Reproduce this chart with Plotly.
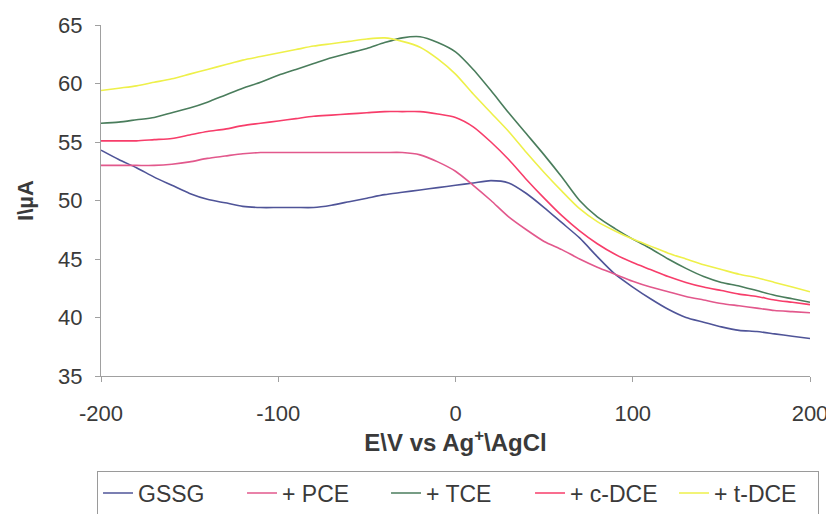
import plotly.graph_objects as go

potential = list(range(-200, 201, 10))

gssg = [54.3, 53.5, 52.8, 52.0, 51.3, 50.6, 50.1, 49.8, 49.5, 49.4, 49.4, 49.4, 49.4, 49.6, 49.9,
        50.2, 50.5, 50.7, 50.9, 51.1, 51.3, 51.5, 51.7, 51.5, 50.6, 49.4, 48.1, 46.8, 45.2, 43.7,
        42.6, 41.6, 40.7, 40.0, 39.6, 39.2, 38.9, 38.8, 38.6, 38.4, 38.2]
pce = [53.0, 53.0, 53.0, 53.0, 53.1, 53.3, 53.6, 53.8, 54.0, 54.1, 54.1, 54.1, 54.1, 54.1, 54.1,
       54.1, 54.1, 54.1, 53.9, 53.3, 52.5, 51.3, 50.0, 48.6, 47.5, 46.5, 45.8, 45.0, 44.3, 43.7,
       43.1, 42.6, 42.2, 41.8, 41.5, 41.2, 41.0, 40.8, 40.6, 40.5, 40.4]
tce = [56.6, 56.7, 56.9, 57.1, 57.5, 57.9, 58.4, 59.0, 59.6, 60.1, 60.7, 61.2, 61.7, 62.2, 62.6,
       63.0, 63.5, 63.9, 64.0, 63.5, 62.7, 61.2, 59.4, 57.5, 55.7, 53.9, 52.0, 50.0, 48.6, 47.6,
       46.7, 45.9, 45.0, 44.2, 43.5, 43.0, 42.7, 42.3, 41.9, 41.6, 41.3]
cdce = [55.1, 55.1, 55.1, 55.2, 55.3, 55.6, 55.9, 56.1, 56.4, 56.6, 56.8, 57.0, 57.2, 57.3, 57.4,
        57.5, 57.6, 57.6, 57.6, 57.4, 57.1, 56.3, 55.0, 53.5, 51.8, 50.2, 48.7, 47.4, 46.3, 45.4,
        44.7, 44.1, 43.5, 43.0, 42.6, 42.3, 42.0, 41.8, 41.5, 41.3, 41.1]
tdce = [59.4, 59.6, 59.8, 60.1, 60.4, 60.8, 61.2, 61.6, 62.0, 62.3, 62.6, 62.9, 63.2, 63.4, 63.6,
        63.8, 63.9, 63.6, 63.1, 62.1, 60.8, 59.1, 57.5, 55.9, 54.1, 52.4, 50.8, 49.3, 48.2, 47.4,
        46.7, 46.1, 45.5, 45.0, 44.5, 44.1, 43.7, 43.4, 43.0, 42.6, 42.2]

x_ticks = [-200, -100, 0, 100, 200]
x_tick_labels = ["-200", "-100", "0", "100", "200"]
y_ticks = [35, 40, 45, 50, 55, 60, 65]

series_names = ["GSSG", "+ PCE", "+ TCE", "+ c-DCE", "+ t-DCE"]
series_values = [gssg, pce, tce, cdce, tdce]
series_colors = ["#4f5498", "#e2588c", "#4a7d5c", "#f73d6a", "#eef04a"]

fig = go.Figure()
for name, vals, col in zip(series_names, series_values, series_colors):
    fig.add_trace(go.Scatter(x=potential, y=vals, mode="lines", name=name,
                             line=dict(color=col, width=1.6, shape="spline", smoothing=0.7)))

font_family = "Arial, Liberation Sans, sans-serif"
txt = "#3a3a3a"
fig.update_layout(
    width=826, height=506,
    margin=dict(l=93, r=24, t=17, b=138, autoexpand=False),
    paper_bgcolor="white", plot_bgcolor="white",
    font=dict(family=font_family, size=22, color=txt),
    showlegend=True,
    legend=dict(orientation="h", x=-0.0056, xanchor="left", y=-0.2695, yanchor="top",
                bordercolor="#9a9a9a", borderwidth=1, font=dict(size=23, color=txt),
                entrywidth=99, entrywidthmode="pixels", tracegroupgap=0),
)
fig.update_xaxes(range=[-200, 200], tickvals=x_ticks, ticktext=x_tick_labels, automargin=False,
                 showgrid=False, zeroline=False, showline=True, linecolor="#a0a0a0", linewidth=1,
                 ticks="outside", ticklen=5, tickcolor="#a0a0a0", ticklabelstandoff=13,
                 tickfont=dict(size=22, color=txt),
                 title=dict(text="<b>E\\V vs Ag<sup>+</sup>\\AgCl</b>", font=dict(size=24, color=txt), standoff=2))
fig.update_yaxes(range=[35, 65], tickvals=y_ticks, automargin=False,
                 showgrid=False, zeroline=False, showline=True, linecolor="#a0a0a0", linewidth=1,
                 ticks="outside", ticklen=5, tickcolor="#a0a0a0", ticklabelstandoff=8,
                 tickfont=dict(size=22, color=txt),
                 title=dict(text="<b>I\\µA</b>", font=dict(size=22, color=txt), standoff=18))

fig.write_html("out.html")
